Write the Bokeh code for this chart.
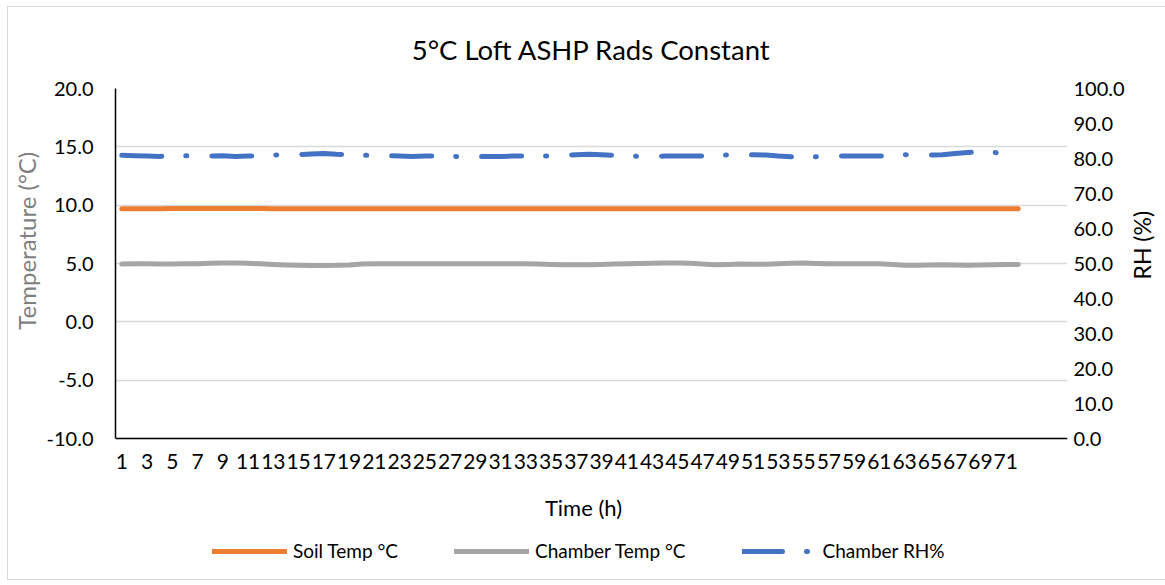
import math
from bokeh.plotting import figure
from bokeh.models import (Range1d, LinearAxis, FixedTicker, Legend, LegendItem, Title,
                          NumeralTickFormatter, Label, Span, ColumnDataSource)
from bokeh.core.properties import value
from bokeh.embed import file_html
from bokeh.resources import INLINE

# ---- data ----
hours = list(range(1, 73))
soil_temp = [9.70, 9.70, 9.70, 9.70, 9.71, 9.71, 9.71, 9.71, 9.72, 9.72, 9.72, 9.71,
             9.70, 9.70, 9.70, 9.70, 9.70, 9.70, 9.70, 9.70, 9.70, 9.70, 9.70, 9.70,
             9.70, 9.70, 9.70, 9.70, 9.70, 9.70, 9.70, 9.70, 9.70, 9.70, 9.70, 9.70,
             9.70, 9.70, 9.70, 9.70, 9.70, 9.70, 9.70, 9.70, 9.70, 9.70, 9.70, 9.70,
             9.70, 9.70, 9.70, 9.70, 9.70, 9.70, 9.70, 9.70, 9.70, 9.70, 9.70, 9.70,
             9.70, 9.70, 9.70, 9.70, 9.70, 9.70, 9.70, 9.70, 9.70, 9.70, 9.70, 9.70]
chamber_temp = [4.95, 4.97, 4.97, 4.96, 4.96, 4.97, 4.98, 5.02, 5.05, 5.05, 5.02, 4.97,
                4.92, 4.88, 4.85, 4.83, 4.83, 4.84, 4.88, 4.96, 4.97, 4.97, 4.97, 4.97,
                4.97, 4.97, 4.97, 4.97, 4.97, 4.97, 4.97, 4.97, 4.97, 4.95, 4.92, 4.90,
                4.90, 4.90, 4.92, 4.95, 4.97, 4.99, 5.02, 5.04, 5.05, 5.03, 4.95, 4.90,
                4.92, 4.95, 4.94, 4.93, 4.97, 5.03, 5.05, 5.00, 4.97, 4.97, 4.97, 4.97,
                4.97, 4.92, 4.86, 4.85, 4.88, 4.90, 4.87, 4.86, 4.87, 4.90, 4.91, 4.92]
chamber_rh = [80.9, 80.8, 80.7, 80.6, 80.7, 80.8, 80.8, 80.7, 80.8, 80.6, 80.7, 80.8,
              81.0, 81.1, 81.1, 81.3, 81.4, 81.2, 81.1, 80.9, 80.9, 80.8, 80.7, 80.6,
              80.7, 80.7, 80.6, 80.5, 80.6, 80.6, 80.6, 80.7, 80.7, 80.7, 80.7, 80.9,
              81.1, 81.2, 81.1, 80.9, 80.7, 80.6, 80.6, 80.7, 80.7, 80.7, 80.7, 80.9,
              81.0, 81.1, 81.1, 81.0, 80.7, 80.5, 80.5, 80.5, 80.6, 80.7, 80.7, 80.7,
              80.7, 80.9, 81.1, 81.0, 81.0, 81.1, 81.4, 81.7, 81.9, 81.7, 81.6, 81.4]
x_tick_values = [1, 3, 5, 7, 9, 11, 13, 15, 17, 19, 21, 23, 25, 27, 29, 31, 33, 35,
                 37, 39, 41, 43, 45, 47, 49, 51, 53, 55, 57, 59, 61, 63, 65, 67, 69, 71]
x_tick_labels = [str(v) for v in x_tick_values]
temp_ticks = [-10, -5, 0, 5, 10, 15, 20]
rh_ticks = [0, 10, 20, 30, 40, 50, 60, 70, 80, 90, 100]
temp_min, temp_max = -10, 20
rh_min, rh_max = 0, 100

FONT = "Lato"
PX_PER_C = 350 / (temp_max - temp_min)          # pixels per °C on the frame
PX_PER_RH = 350 / (rh_max - rh_min)
FRAME_H = 488
temp_low = temp_max - FRAME_H / PX_PER_C         # frame extends below the axis for labels/legend
rh_low = rh_max - FRAME_H / PX_PER_RH
NBSP = "\u00a0"

p = figure(frame_width=952, frame_height=FRAME_H, output_backend="svg", toolbar_location=None,
           x_range=Range1d(0.5, 75.9), y_range=Range1d(temp_low, temp_max),
           min_border_left=100, min_border_right=80, min_border_top=77, min_border_bottom=3)
p.styles = {"border": "1px solid #d9d9d9", "margin-left": "7px", "margin-top": "6px"}
p.outline_line_color = None
p.background_fill_color = "white"
p.border_fill_color = "white"

p.extra_y_ranges = {"rh": Range1d(rh_low, rh_max)}

# title
p.title.visible = False
t = Title(text="5°C Loft ASHP Rads Constant", align="center", text_font=FONT,
          text_font_size="27.5px", text_font_style="normal", text_color="#000000", standoff=46)
p.add_layout(t, "above")

# grid
p.xgrid.visible = False
p.ygrid.ticker = FixedTicker(ticks=temp_ticks)
p.ygrid.grid_line_color = "#d9d9d9"
p.ygrid.grid_line_width = 1.3

# x axis (drawn at temp_min inside the frame)
xa = p.xaxis[0]
xa.visible = False
p.add_layout(Span(location=temp_min, dimension="width", line_color="black", line_width=1.5))
tick_src = ColumnDataSource(dict(x=x_tick_values, label=x_tick_labels))
p.text(x="x", y=temp_min - 23 / PX_PER_C, text="label", source=tick_src,
       text_align="center", text_baseline="middle", text_font=value(FONT),
       text_font_size="21px", text_color="black")
p.add_layout(Label(x=0.5 + 468 / (952 / 75.4), y=temp_min - 69 / PX_PER_C, text="Time (h)",
                   text_align="center", text_baseline="middle", text_font=FONT,
                   text_font_size="22px", text_color="black"))

# left axis
ya = p.yaxis[0]
ya.ticker = FixedTicker(ticks=temp_ticks)
ya.bounds = (temp_min, temp_max)
ya.formatter = NumeralTickFormatter(format="0.0")
ya.axis_label = NBSP * 30 + "Temperature (°C)"
ya.axis_line_color = "black"
ya.axis_line_width = 1.5
ya.major_tick_line_color = None
ya.minor_tick_line_color = None
ya.major_label_text_font = FONT
ya.major_label_text_font_size = "20px"
ya.major_label_text_color = "black"
ya.major_label_standoff = 16
ya.axis_label_text_font = FONT
ya.axis_label_text_font_size = "24px"
ya.axis_label_text_font_style = "normal"
ya.axis_label_text_color = "#7f7f7f"
ya.axis_label_standoff = 3

# right axis
ra = LinearAxis(y_range_name="rh", ticker=FixedTicker(ticks=rh_ticks), bounds=(rh_min, rh_max),
                formatter=NumeralTickFormatter(format="0.0"), axis_label=NBSP * 9 + "RH (%)")
ra.axis_line_color = None
ra.major_tick_line_color = None
ra.minor_tick_line_color = None
ra.major_label_text_font = FONT
ra.major_label_text_font_size = "20px"
ra.major_label_text_color = "black"
ra.major_label_standoff = 0
ra.axis_label_text_font = FONT
ra.axis_label_text_font_size = "23px"
ra.axis_label_text_font_style = "normal"
ra.axis_label_text_color = "black"
ra.axis_label_standoff = 14
ra.axis_label_orientation = math.pi / 2
p.add_layout(ra, "right")

# lines
r_soil = p.line(hours, soil_temp, line_color="#ED7D31", line_width=5, line_cap="round", line_join="round")
r_ch = p.line(hours, chamber_temp, line_color="#A5A5A5", line_width=5, line_cap="round", line_join="round")
r_rh = p.line(hours, chamber_rh, y_range_name="rh", line_color="#4472C4", line_width=5,
              line_cap="round", line_join="round", line_dash="40 24 1 25")

legend = Legend(items=[LegendItem(label="Soil Temp °C", renderers=[r_soil]),
                       LegendItem(label="Chamber Temp °C", renderers=[r_ch]),
                       LegendItem(label="Chamber RH%", renderers=[r_rh])],
                orientation="horizontal", location=(97, 14),
                glyph_width=75, glyph_height=20, label_height=20, label_standoff=6, spacing=56,
                label_text_font=FONT, label_text_font_size="19px", label_text_color="black",
                border_line_color=None, background_fill_alpha=0, margin=0, padding=0)
p.add_layout(legend, "center")

open("out.html", "w").write(file_html(p, INLINE))
